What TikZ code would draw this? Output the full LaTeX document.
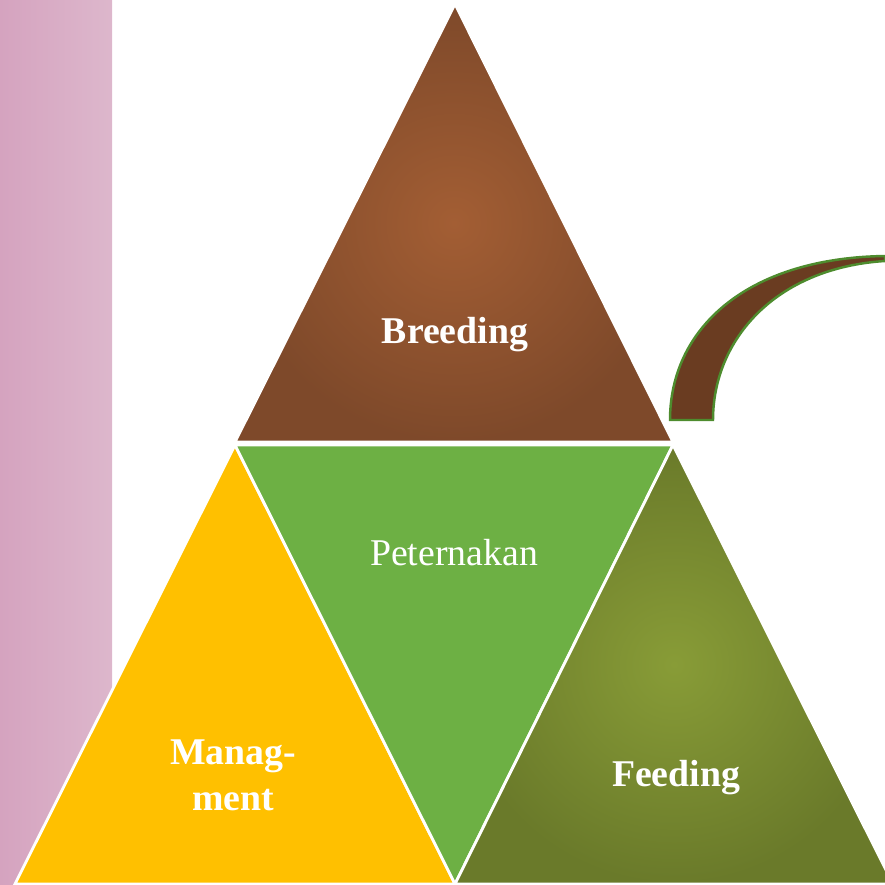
\documentclass[tikz,border=0pt]{standalone}
\usepackage{fontspec}
\setmainfont{Liberation Serif}

\definecolor{barleft}{HTML}{D5A3BF}
\definecolor{barright}{HTML}{DDB7CC}
\definecolor{brownin}{HTML}{A35E34}
\definecolor{brownout}{HTML}{7E492A}
\definecolor{midgreen}{HTML}{6DB044}
\definecolor{tripyellow}{HTML}{FFC000}
\definecolor{olivein}{HTML}{889C37}
\definecolor{oliveout}{HTML}{6A7A2A}
\definecolor{hookfill}{HTML}{6A3C21}
\definecolor{hookline}{HTML}{4E8C2E}

\tikzset{
  tri/.style={draw=white, line width=1.6pt, line join=miter},
  lbl/.style={text=white, anchor=base, font=\fontsize{21.5}{26}\selectfont\bfseries},
}

\begin{document}
\begin{tikzpicture}[x=0.02cm, y=-0.02cm]

  \useasboundingbox (0,0) rectangle (885,885);

  % ── Side bar ─────────────────────────────────────────────────────
  \shade[left color=barleft, right color=barright] (0,0) rectangle (112,885);

  % ── Lower left triangle ──────────────────────────────────────────
  \fill[tripyellow] (235,445) -- (15,884) -- (455,884) -- cycle;
  \draw[tri] (235,445) -- (15,884) -- (455,884) -- cycle;

  % ── Middle (inverted) triangle ───────────────────────────────────
  \fill[midgreen] (235,445) -- (673,445) -- (455,884) -- cycle;
  \draw[tri] (235,445) -- (673,445) -- (455,884) -- cycle;

  % ── Lower right triangle ─────────────────────────────────────────
  \shade[inner color=olivein, outer color=oliveout]
    (673,445) -- (455,884) -- (893,884) -- cycle;
  \draw[tri] (673,445) -- (455,884) -- (893,884) -- cycle;

  % ── Top triangle ─────────────────────────────────────────────────
  \shade[inner color=brownin, outer color=brownout]
    (455,4) -- (235,442) -- (673,442) -- cycle;
  \draw[tri] (455,4) -- (235,442) -- (673,442) -- cycle;

  % ── Curved hook ──────────────────────────────────────────────────
  \draw[hookline, line width=1.4pt, fill=hookfill]
    (670,420) .. controls (670,330) and (745,258) .. (885,256)
    -- (885,261) .. controls (775,268) and (713,340) .. (713,420) -- cycle;

  % ── Labels ───────────────────────────────────────────────────────
  \node[lbl] (breeding) at (455,343) {Breeding};
  \node[lbl, font=\fontsize{21.5}{26}\selectfont] (peternakan) at (454,565) {Peternakan};
  \node[lbl, align=center, anchor=center] (managment) at (233,775) {Manag-\\ment};
  \node[lbl] (feeding) at (676,786) {Feeding};

\end{tikzpicture}
\end{document}
